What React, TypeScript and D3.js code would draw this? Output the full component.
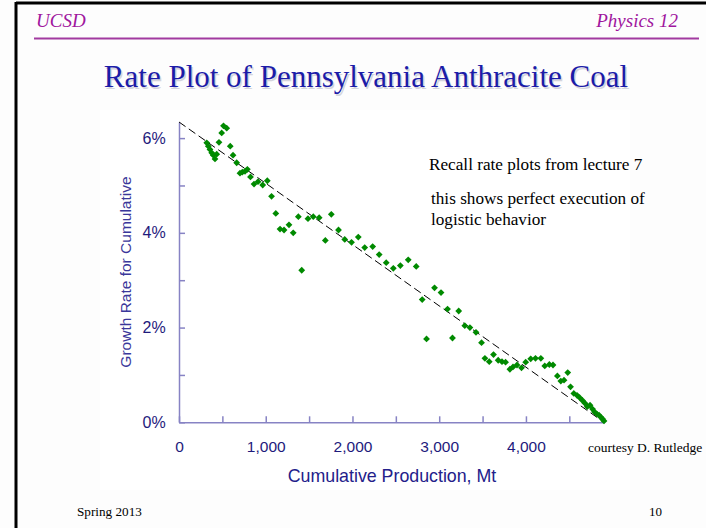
import React, { useEffect, useRef } from "react";
import * as d3 from "d3";

// Cumulative production (Mt) and growth rate for cumulative (%)
const cumulativeMt = [320,338,357,377,395,415,435,461,492,513,550,591,623,665,703,730,761,788,824,865,911,965,1018,1067,1116,1165,1211,1268,1317,1376,1415,1487,1548,1616,1687,1756,1839,1911,1989,2067,2141,2233,2308,2389,2471,2552,2643,2735,2804,2854,2946,3021,3096,3153,3225,3295,3354,3424,3488,3527,3577,3626,3680,3724,3765,3815,3851,3897,3949,3997,4055,4110,4172,4217,4270,4312,4362,4402,4439,4482,4514,4552,4589,4620,4652,4681,4707,4739,4768,4791,4816,4843,4862,4883,4900];
const growthRatePct = [5.90,5.83,5.76,5.69,5.64,5.56,5.66,5.91,6.11,6.26,6.21,5.83,5.64,5.48,5.26,5.28,5.30,5.34,5.18,5.03,5.08,5.01,5.10,4.77,4.41,4.08,4.06,4.17,4.00,4.34,3.21,4.30,4.34,4.32,3.84,4.39,4.06,3.86,3.80,3.91,3.69,3.71,3.54,3.37,3.25,3.31,3.43,3.29,2.59,1.76,2.84,2.74,2.39,1.78,2.35,2.04,2.00,1.90,1.68,1.35,1.28,1.43,1.31,1.28,1.27,1.12,1.17,1.21,1.15,1.27,1.34,1.35,1.35,1.19,1.22,1.21,0.98,0.87,0.89,1.05,0.75,0.61,0.57,0.52,0.46,0.40,0.33,0.36,0.28,0.22,0.18,0.15,0.11,0.07,0.03];

// Logistic fit line (dashed)
const fitCumulative = [0, 4900];
const fitRate = [6.34, 0];

// Axis ticks
const xTicks = [0, 500, 1000, 1500, 2000, 2500, 3000, 3500, 4000, 4500];
const xLabelTicks = [0, 1000, 2000, 3000, 4000];
const yTicks = [0, 1, 2, 3, 4, 5, 6];
const yLabelTicks = [0, 2, 4, 6];

const W = 706;
const H = 528;

export default function App() {
  const gx = useRef<SVGGElement>(null);
  const gy = useRef<SVGGElement>(null);

  const x = d3.scaleLinear().domain([0, 4900]).range([179, 604]);
  const y = d3.scaleLinear().domain([0, 6.34]).range([422.3, 122]);

  useEffect(() => {
    const axisColor = "#8783c4";
    const labelColor = "#1e1a7c";
    const xa = d3
      .axisBottom(x)
      .tickValues(xTicks)
      .tickSizeInner(-6)
      .tickSizeOuter(0)
      .tickPadding(18.5)
      .tickFormat((d: any) => (xLabelTicks.includes(d) ? d3.format(",")(d) : ""));
    const sx = d3.select(gx.current!);
    sx.call(xa as any);
    sx.selectAll("path,line").attr("stroke", axisColor).attr("stroke-width", 1.5);
    sx.selectAll("text")
      .attr("fill", labelColor)
      .attr("font-size", 15.5)
      .attr("font-family", "Liberation Sans, Arial, sans-serif");

    const ya = d3
      .axisLeft(y)
      .tickValues(yTicks)
      .tickSizeInner(-6)
      .tickSizeOuter(0)
      .tickPadding(13.3)
      .tickFormat((d: any) => (yLabelTicks.includes(d) ? `${d}%` : ""));
    const sy = d3.select(gy.current!);
    sy.call(ya as any);
    sy.selectAll("path,line").attr("stroke", axisColor).attr("stroke-width", 1.5);
    sy.selectAll("text")
      .attr("fill", labelColor)
      .attr("font-size", 16)
      .attr("font-family", "Liberation Sans, Arial, sans-serif");
  }, []);

  const fitLine = d3
    .line<number>()
    .x((_, i) => x(fitCumulative[i]))
    .y((_, i) => y(fitRate[i]));

  const diamond = d3.symbol(d3.symbolSquare, 23)();

  const serif = "Liberation Serif, Times New Roman, serif";
  const sans = "Liberation Sans, Arial, sans-serif";

  return (
    <svg
      width={W}
      height={H}
      style={{ position: "absolute", left: 0, top: 0, background: "#ffffff" }}
    >
      {/* slide frame */}
      <rect x={0} y={0} width={W} height={H} fill="#fdfdfd" />
      <line x1={16} y1={3} x2={W} y2={3} stroke="#000" strokeWidth={3} />
      <line x1={16} y1={2} x2={16} y2={H} stroke="#000" strokeWidth={3} />

      {/* header */}
      <text x={36} y={27} fill="#a0169e" fontFamily={serif} fontStyle="italic" fontSize={19}>
        UCSD
      </text>
      <text x={678} y={27} fill="#a0169e" fontFamily={serif} fontStyle="italic" fontSize={19} textAnchor="end">
        Physics 12
      </text>
      <line x1={34} y1={38.5} x2={699} y2={38.5} stroke="#a23aa0" strokeWidth={2} />

      {/* title */}
      <text x={366} y={87} fill="#d4d4dc" fontFamily={serif} fontSize={31} textAnchor="middle" transform="translate(1.5,1.5)">
        Rate Plot of Pennsylvania Anthracite Coal
      </text>
      <text x={366} y={87} fill="#1c1ca8" fontFamily={serif} fontSize={31} textAnchor="middle">
        Rate Plot of Pennsylvania Anthracite Coal
      </text>

      {/* chart area background */}
      <rect x={100} y={110} width={530} height={380} fill="#ffffff" />

      {/* axes */}
      <g ref={gx} transform={`translate(0,${y(0)})`} />
      <g ref={gy} transform={`translate(${x(0)},0)`} />

      {/* fit line */}
      <path
        d={fitLine(fitCumulative) || ""}
        fill="none"
        stroke="#000"
        strokeWidth={1}
        strokeDasharray="8,4"
      />

      {/* points */}
      {cumulativeMt.map((q, i) => (
        <path
          key={i}
          d={diamond || ""}
          transform={`translate(${x(q)},${y(growthRatePct[i])}) rotate(45)`}
          fill="#008a00"
        />
      ))}

      {/* axis titles */}
      <text x={392} y={482} fill="#23208a" fontFamily={sans} fontSize={17.8} textAnchor="middle">
        Cumulative Production, Mt
      </text>
      <text
        transform="translate(131,272) rotate(-90)"
        fill="#3a379a"
        fontFamily={sans}
        fontSize={15.5}
        textAnchor="middle"
      >
        Growth Rate for Cumulative
      </text>

      {/* annotations */}
      <text x={429} y={170} fill="#000" fontFamily={serif} fontSize={17.2}>
        Recall rate plots from lecture 7
      </text>
      <text x={431} y={204} fill="#000" fontFamily={serif} fontSize={17.2}>
        this shows perfect execution of
      </text>
      <text x={431} y={225} fill="#000" fontFamily={serif} fontSize={17.2}>
        logistic behavior
      </text>
      <text x={588} y={452} fill="#000" fontFamily={serif} fontSize={13.5}>
        courtesy D. Rutledge
      </text>

      {/* footer */}
      <text x={77} y={516} fill="#000" fontFamily={serif} fontSize={13.2}>
        Spring 2013
      </text>
      <text x={649} y={516} fill="#000" fontFamily={serif} fontSize={13}>
        10
      </text>
    </svg>
  );
}
